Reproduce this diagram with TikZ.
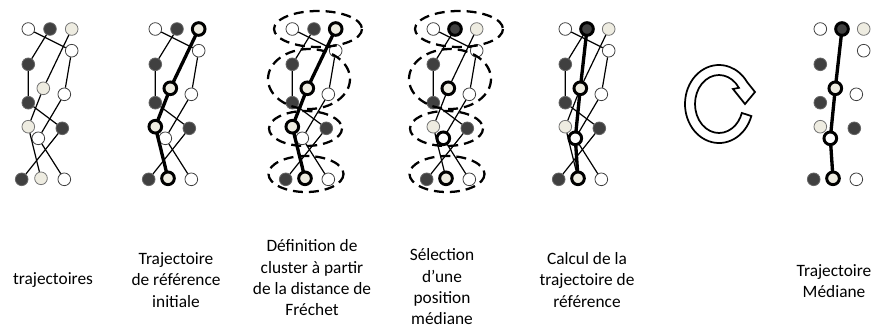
\documentclass[tikz,border=0pt]{standalone}
\usepackage{fontspec}
\setmainfont{Carlito}
\definecolor{ptdark}{RGB}{64,64,64}
\definecolor{ptcream}{RGB}{238,236,225}
\tikzset{
  traj/.style={circle, draw=black!75, line width=0.6pt, minimum size=9.5pt, inner sep=0pt},
  wdot/.style={traj, fill=white},
  ddot/.style={traj, fill=ptdark, draw=black!60},
  cdot/.style={traj, fill=ptcream, draw=black!55},
  sel/.style={circle, draw=black, line width=2.2pt, minimum size=9.5pt, inner sep=0pt},
  tline/.style={line width=0.9pt},
  refline/.style={line width=2.5pt},
  clust/.style={line width=1.7pt, dash pattern=on 7.5pt off 4.5pt},
  lbl/.style={align=center, font=\fontsize{13}{16}\selectfont},
  turn/.style={draw=black, fill=white, line width=1.3pt, line join=miter},
}
% the 14 positions of one panel
\newcommand{\trajdots}[2]{%
  \begin{scope}[shift={(#2,0)}]
    \node[wdot] (#1w1) at (28.3,29) {};
    \node[ddot] (#1d1) at (50,29) {};
    \node[cdot] (#1c1) at (71.7,29) {};
    \node[wdot] (#1w2) at (71.7,50.7) {};
    \node[ddot] (#1d2) at (28.3,64.3) {};
    \node[cdot] (#1c2) at (43.3,88.3) {};
    \node[wdot] (#1w3) at (64.3,94.3) {};
    \node[ddot] (#1d3) at (28.3,102.7) {};
    \node[cdot] (#1c3) at (28.3,126.7) {};
    \node[ddot] (#1d4) at (62.3,128.3) {};
    \node[wdot] (#1w4) at (38.3,138.3) {};
    \node[ddot] (#1d5) at (21.7,179.3) {};
    \node[cdot] (#1c4) at (41,178.3) {};
    \node[wdot] (#1w5) at (64.3,179.3) {};
  \end{scope}}
\newcommand{\trajlinks}[1]{%
  \draw[tline] (#1w1) -- (#1w2) -- (#1w3) -- (#1w4) -- (#1w5);
  \draw[tline] (#1d1) -- (#1d2) -- (#1d3) -- (#1d4) -- (#1d5);
  \draw[tline] (#1c1) -- (#1c2) -- (#1c3) -- (#1c4);}
\newcommand{\clusters}[1]{%
  \begin{scope}[shift={(#1,0)}]
    \draw[clust] (54,29) ellipse [x radius=44, y radius=18];
    \draw[clust] (45,79) ellipse [x radius=41, y radius=30];
    \draw[clust] (41.5,128.5) ellipse [x radius=36.5, y radius=17.5];
    \draw[clust] (42,174) ellipse [x radius=37.5, y radius=18];
  \end{scope}}
\begin{document}
\begin{tikzpicture}[x=0.75pt, y=-0.75pt]
  \useasboundingbox (0,0) rectangle (877,330);
  % panels
  \trajdots{a}{0}
  \trajdots{b}{127}
  \trajdots{c}{264}
  \trajdots{d}{405}
  \trajdots{e}{537}
  \trajdots{f}{792}
  \trajlinks{a}
  \trajlinks{b}
  \trajlinks{c}
  \trajlinks{d}
  \trajlinks{e}
  % reference trajectories
  \draw[refline] (bc1) -- (bc2) -- (bc3) -- (bc4);
  \draw[refline] (cc1) -- (cc2) -- (cc3) -- (cc4);
  \draw[refline] (ed1) -- (ec2) -- (ew4) -- (ec4);
  \draw[refline] (fd1) -- (fc2) -- (fw4) -- (fc4);
  \foreach \n in {bc1,bc2,bc3,bc4,cc1,cc2,cc3,cc4,dd1,dc2,dw4,dc4,ed1,ec2,ew4,ec4,fd1,fc2,fw4,fc4}
    \node[sel] (\n s) at (\n) {};
  % clusters
  \clusters{264}
  \clusters{405}
  % iteration arrow
  \draw[turn] ([shift={(18:34 and 39)}]719,104) arc[start angle=18, end angle=326, x radius=34, y radius=39]
    -- (755,92) -- (745,104) -- (733,89) -- ([shift={(326:24 and 29)}]719,104)
    arc[start angle=326, end angle=18, x radius=24, y radius=29] -- cycle;
  % labels
  \node[lbl] (l1) at (53,280) {trajectoires};
  \node[lbl] (l2) at (176,280) {Trajectoire\\de référence\\initiale};
  \node[lbl] (l3) at (312,278) {Définition de\\cluster à partir\\de la distance de\\Fréchet};
  \node[lbl] (l4) at (442,287) {Sélection\\d’une\\position\\médiane};
  \node[lbl] (l5) at (587,280) {Calcul de la\\trajectoire de\\référence};
  \node[lbl] (l6) at (834,281) {Trajectoire\\Médiane};
\end{tikzpicture}
\end{document}
